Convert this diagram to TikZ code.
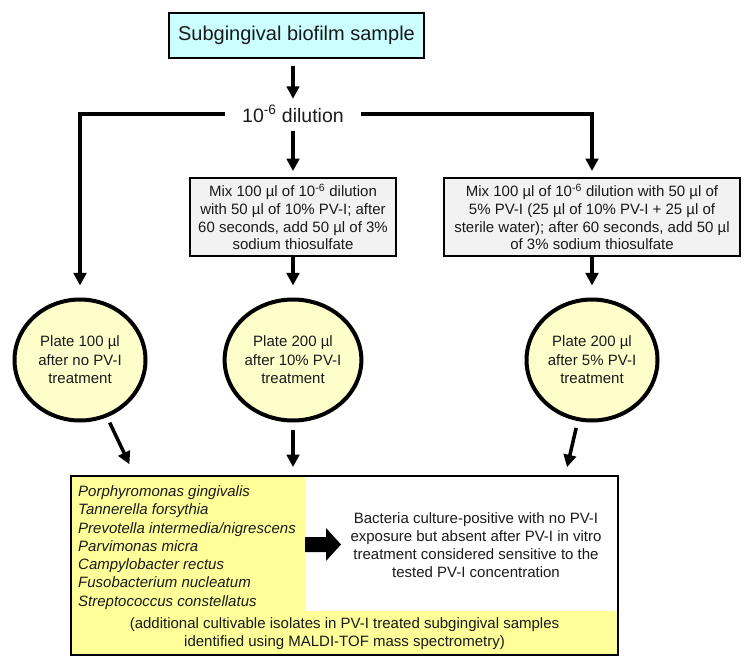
\documentclass[tikz,border=0pt]{standalone}
\usepackage{fontspec}
\setmainfont{Liberation Sans}
\usetikzlibrary{arrows.meta,shapes.geometric,calc}
\definecolor{cyanfill}{HTML}{CCFFFF}
\definecolor{grayfill}{HTML}{F2F2F2}
\definecolor{ellfill}{HTML}{FFFFCC}
\definecolor{yel}{HTML}{FFFF99}
\definecolor{txt}{HTML}{1A1A1A}
\begin{document}
\begin{tikzpicture}[x=1pt,y=-1pt,
  conn/.style={line width=3.5pt, draw=black},
  arr/.style={conn, -{Triangle[width=12.5pt,length=12.5pt]}},
  topbox/.style={draw, line width=2pt, fill=cyanfill, minimum width=255, minimum height=45, inner sep=0, text=txt, font=\fontsize{20}{24}\selectfont},
  midbox/.style={draw, line width=1.8pt, fill=grayfill, minimum height=78, inner sep=0, align=center, text=txt, font=\fontsize{15}{17.7}\selectfont},
  plate/.style={ellipse, draw, line width=4pt, fill=ellfill, minimum width=131, minimum height=121, inner sep=0, align=center, text=txt, font=\fontsize{15}{18.5}\selectfont},
  plain/.style={align=center, inner sep=0, text=txt, font=\fontsize{15}{18}\selectfont}
]
\useasboundingbox (0,0) rectangle (750,671);

\node[topbox] (top) at (296.5,35.5) {Subgingival biofilm sample};
\node[text=txt, font=\fontsize{19.5}{22}\selectfont, inner xsep=17pt, inner ysep=0pt, minimum height=28] (dil) at (293,114) {10\textsuperscript{-6} dilution};

\node[midbox, minimum width=206] (mix10) at (293,217) {Mix 100 µl of 10\textsuperscript{-6} dilution\\with 50 µl of 10\% PV-I; after\\60 seconds, add 50 µl of 3\%\\sodium thiosulfate};
\node[midbox, minimum width=296] (mix5) at (592,217) {Mix 100 µl of 10\textsuperscript{-6} dilution with 50 µl of\\5\% PV-I (25 µl of 10\% PV-I + 25 µl of\\sterile water); after 60 seconds, add 50 µl\\of 3\% sodium thiosulfate};

\node[plate] (p0) at (80,360) {Plate 100 µl\\after no PV-I\\treatment};
\node[plate] (p10) at (293,360) {Plate 200 µl\\after 10\% PV-I\\treatment};
\node[plate] (p5) at (592,360) {Plate 200 µl\\after 5\% PV-I\\treatment};

% bottom result box
\fill[yel] (71,476) rectangle (305,611);
\fill[yel] (71,611) rectangle (618,655);
\node[draw, line width=1.8pt, minimum width=547, minimum height=179, inner sep=0] (res) at (344.5,565.5) {};
\node[anchor=west, align=left, inner sep=0, text=txt, font=\itshape\fontsize{15}{18.3}\selectfont] (species) at (78,547.5) {Porphyromonas gingivalis\\Tannerella forsythia\\Prevotella intermedia/nigrescens\\Parvimonas micra\\Campylobacter rectus\\Fusobacterium nucleatum\\Streptococcus constellatus};
\fill (305,537) -- (326,537) -- (326,528) -- (341,544.5) -- (326,561) -- (326,552) -- (305,552) -- cycle;
\node[plain] (summ) at (476,545) {Bacteria culture-positive with no PV-I\\exposure but absent after PV-I in vitro\\treatment considered sensitive to the\\tested PV-I concentration};
\node[plain] (note) at (344.5,634) {(additional cultivable isolates in PV-I treated subgingival samples\\identified using MALDI-TOF mass spectrometry)};

\coordinate (b0) at (135,476);
\coordinate (b5) at (565,476);

% connectors
\draw[arr, shorten <=7pt, shorten >=1pt] (top.south -| dil.north) -- (dil.north);
\draw[arr, shorten >=12pt] (dil.west) -| (p0.north);
\draw[arr, shorten <=3pt, shorten >=6pt] (dil.south) -- (mix10.north);
\draw[arr, shorten >=6pt] (dil.east) -| (mix5.north);
\draw[arr, shorten >=12pt] (mix10.south) -- (p10.north);
\draw[arr, shorten >=12pt] (mix5.south) -- (p5.north);
\draw[arr, shorten <=6pt, shorten >=13pt] (p0) -- (b0);
\draw[arr, shorten <=7pt, shorten >=8pt] (p10) -- (p10 |- res.north);
\draw[arr, shorten <=7pt, shorten >=9pt] (p5) -- (b5);
\end{tikzpicture}
\end{document}
